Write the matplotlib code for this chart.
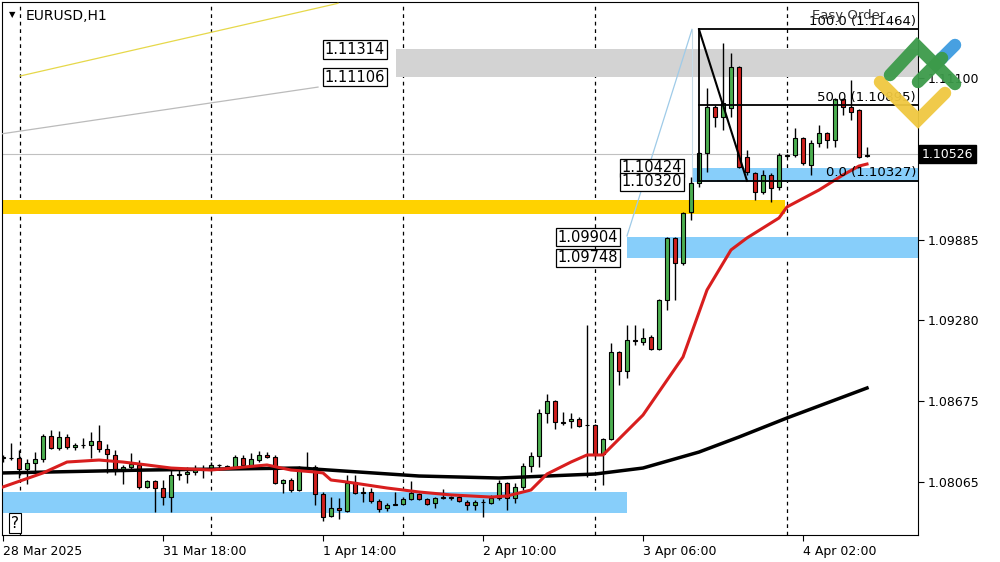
import matplotlib
matplotlib.use("Agg")
import matplotlib.pyplot as plt
import numpy as np
from matplotlib.lines import Line2D
from matplotlib.patches import Rectangle

opens = [1.08245,1.08245,1.08245,1.08163,1.08208,1.08238,1.08411,1.08321,1.08403,1.08328,
         1.08343,1.08343,1.08373,1.08313,1.08268,1.08148,1.08178,1.08193,1.08028,1.08073,
         1.08020,1.07952,1.08118,1.08125,1.08140,1.08155,1.08163,1.08193,1.08185,1.08178,
         1.08245,1.08193,1.08230,1.08268,1.08253,1.08058,1.08080,1.08005,1.08178,1.08178,
         1.07975,1.07810,1.07870,1.07847,1.08065,1.07983,1.07990,1.07922,1.07870,1.07892,
         1.07900,1.07937,1.07975,1.07937,1.07907,1.07945,1.07945,1.07952,1.07915,1.07892,
         1.07915,1.07907,1.07945,1.08058,1.07945,1.08028,1.08185,1.08260,1.08583,1.08673,
         1.08516,1.08523,1.08538,1.08493,1.08493,1.08275,1.08388,1.09041,1.08899,1.09132,
         1.09117,1.09154,1.09064,1.09432,1.09898,1.09710,1.10093,1.10311,1.10536,1.10881,
         1.10806,1.10874,1.11182,1.10506,1.10386,1.10243,1.10371,1.10281,1.10521,1.10521,
         1.10649,1.10446,1.10611,1.10686,1.10634,1.10942,1.10881,1.10859,1.10513]
highs = [1.08268,1.08358,1.08305,1.08238,1.08290,1.08426,1.08456,1.08448,1.08426,1.08358,
         1.08396,1.08441,1.08493,1.08351,1.08305,1.08193,1.08283,1.08230,1.08080,1.08080,
         1.08080,1.08155,1.08170,1.08178,1.08193,1.08193,1.08215,1.08200,1.08193,1.08268,
         1.08268,1.08283,1.08298,1.08290,1.08268,1.08090,1.08095,1.08185,1.08290,1.08190,
         1.07990,1.07952,1.07945,1.08118,1.08118,1.08028,1.08020,1.07937,1.07907,1.07990,
         1.07952,1.08073,1.07983,1.07945,1.07952,1.08013,1.07960,1.07968,1.07930,1.07930,
         1.07937,1.07968,1.08080,1.08065,1.08058,1.08208,1.08290,1.08613,1.08726,1.08681,
         1.08591,1.08583,1.08553,1.09244,1.08500,1.08396,1.09109,1.09049,1.09244,1.09244,
         1.09222,1.09170,1.09440,1.09905,1.09905,1.10093,1.10356,1.10543,1.11024,1.10896,
         1.11362,1.11287,1.11190,1.10558,1.10393,1.10408,1.10386,1.10536,1.10528,1.10724,
         1.10656,1.10634,1.10746,1.10694,1.10950,1.10950,1.11084,1.10866,1.10581]
lows = [1.08215,1.08230,1.08095,1.08050,1.08133,1.08215,1.08313,1.08305,1.08313,1.08305,
        1.08321,1.08245,1.08290,1.08133,1.08118,1.08050,1.08155,1.08013,1.08020,1.07840,
        1.07892,1.07840,1.08080,1.08058,1.08118,1.08095,1.08140,1.08155,1.08163,1.08170,
        1.08178,1.08178,1.08215,1.08245,1.08050,1.07983,1.07990,1.07998,1.08155,1.07892,
        1.07772,1.07802,1.07787,1.07840,1.07975,1.07915,1.07907,1.07840,1.07847,1.07892,
        1.07892,1.07930,1.07930,1.07892,1.07870,1.07937,1.07930,1.07915,1.07855,1.07855,
        1.07802,1.07900,1.07930,1.07855,1.07907,1.08005,1.08140,1.08178,1.08508,1.08463,
        1.08493,1.08471,1.08478,1.08103,1.08253,1.08043,1.08381,1.08794,1.08846,1.09094,
        1.09094,1.09056,1.09056,1.09357,1.09432,1.09695,1.10033,1.10281,1.10393,1.10731,
        1.10709,1.10806,1.10423,1.10371,1.10183,1.10228,1.10168,1.10258,1.10506,1.10506,
        1.10446,1.10371,1.10581,1.10574,1.10581,1.10821,1.10784,1.10500,1.10506]
closes = [1.08253,1.08248,1.08163,1.08208,1.08238,1.08411,1.08321,1.08403,1.08328,1.08343,
          1.08340,1.08373,1.08313,1.08275,1.08148,1.08178,1.08200,1.08028,1.08073,1.08020,
          1.07952,1.08118,1.08125,1.08140,1.08155,1.08163,1.08193,1.08190,1.08170,1.08253,
          1.08193,1.08238,1.08268,1.08253,1.08058,1.08080,1.08005,1.08178,1.08170,1.07975,
          1.07802,1.07870,1.07855,1.08058,1.07983,1.07990,1.07922,1.07862,1.07892,1.07900,
          1.07937,1.07983,1.07937,1.07900,1.07945,1.07952,1.07950,1.07922,1.07892,1.07915,
          1.07912,1.07945,1.08058,1.07945,1.08028,1.08185,1.08260,1.08583,1.08673,1.08516,
          1.08510,1.08538,1.08486,1.08490,1.08275,1.08388,1.09041,1.08899,1.09132,1.09124,
          1.09147,1.09064,1.09432,1.09898,1.09710,1.10085,1.10311,1.10536,1.10881,1.10806,
          1.10911,1.11182,1.10431,1.10393,1.10243,1.10371,1.10273,1.10521,1.10515,1.10649,
          1.10461,1.10611,1.10686,1.10634,1.10942,1.10881,1.10844,1.10506,1.10521]

ma_fast_idx = [0,5,8,12,15,18,21,26,33,36,39,40,41,43,48,52,56,61,63,66,68,71,73,75,80,85,88,91,93,95,97,98,102,105,107,108]
ma_fast_val = [1.08028,1.08133,1.08215,1.08230,1.08215,1.08193,1.08170,1.08155,1.08193,1.08155,1.08140,1.08133,1.08080,
               1.08065,1.08020,1.07990,1.07968,1.07952,1.07960,1.08005,1.08125,1.08215,1.08268,1.08268,1.08568,
               1.09004,1.09507,1.09808,1.09898,1.09973,1.10048,1.10131,1.10258,1.10371,1.10438,1.10453]
ma_slow_idx = [0,18,37,52,62,74,80,87,92,98,108]
ma_slow_val = [1.08133,1.08155,1.08170,1.08110,1.08095,1.08125,1.08170,1.08290,1.08403,1.08546,1.08771]

date_labels = ["28 Mar 2025","31 Mar 18:00","1 Apr 14:00","2 Apr 10:00","3 Apr 06:00","4 Apr 02:00"]
date_idx = [0,20,40,60,80,100]
price_ticks = [1.11100,1.09885,1.09280,1.08675,1.08065]
current_price = 1.10526
fib_levels = [1.11464,1.10895,1.10327]
fib_names = ["100.0","50.0","0.0"]

W, H = 1000, 562
fig = plt.figure(figsize=(10, 5.62), dpi=100)
ax = fig.add_axes([2/W, 27/H, 916/W, 533/H])
ax.set_xlim(-0.125, 114.375)
ax.set_ylim(1.07667, 1.11670)

def px2x(px): return (px - 3) / 8.0

GREEN = "#4caf50"; RED = "#d0201e"
n = len(opens)
xs = np.arange(n)
o = np.array(opens); c = np.array(closes)
ax.vlines(xs, lows, highs, color="black", lw=1, zorder=4)
bot = np.minimum(o, c); ht = np.maximum(np.abs(c - o), 0.00003)
cols = [GREEN if cc >= oo else RED for oo, cc in zip(o, c)]
ax.bar(xs, ht, bottom=bot, width=0.62, color=cols, edgecolor="black", lw=0.8, zorder=5)

# zones
ax.add_patch(Rectangle((px2x(3), 1.10078), px2x(785)-px2x(3), 0.00105, color="#ffd200", lw=0, zorder=2))
ax.add_patch(Rectangle((px2x(3), 1.07832), px2x(627)-px2x(3), 0.00158, color="#87cefa", lw=0, zorder=1))
ax.add_patch(Rectangle((px2x(627), 1.09748), 120, 1.09904-1.09748, color="#87cefa", lw=0, zorder=1))
ax.add_patch(Rectangle((px2x(693), 1.10320), 120, 1.10424-1.10320, color="#87cefa", lw=0, zorder=1))
ax.add_patch(Rectangle((px2x(396), 1.11106), 120, 1.11314-1.11106, color="#d3d3d3", lw=0, zorder=1))

# MAs
ax.plot(ma_slow_idx, ma_slow_val, color="black", lw=2.5, zorder=6)
ax.plot(ma_fast_idx, ma_fast_val, color="#d81e1e", lw=2.2, zorder=7)

# grid
for gx in [20, 211, 403, 595, 787]:
    ax.axvline(px2x(gx), color="black", lw=0.9, ls=(0, (3, 3)), zorder=0)
ax.axhline(current_price, color="#c0c0c0", lw=0.8, zorder=0)

# trend lines
ax.plot([px2x(20), px2x(338)], [1.11114, 1.11660], color="#e6d84a", lw=0.9, zorder=3)
ax.plot([px2x(0), px2x(318)], [1.10678, 1.11031], color="#bbbbbb", lw=0.9, zorder=3)
ax.plot([px2x(627), px2x(692)], [1.09913, 1.11464], color="#9fcbe8", lw=0.9, zorder=3)
ax.plot([px2x(692), px2x(692)], [1.10300, 1.11464], color="#c8dce8", lw=0.8, zorder=3)

# fibo
fx0 = px2x(699)
for lv in fib_levels:
    ax.plot([fx0, 120], [lv, lv], color="black", lw=1.3, zorder=8)
ax.plot([fx0, fx0], [fib_levels[2], fib_levels[0]], color="black", lw=1.3, zorder=8)
ax.plot([fx0, px2x(747)], [fib_levels[0], fib_levels[2]], color="black", lw=1.5, zorder=8)
for lv, nm in zip(fib_levels, fib_names):
    ax.text(px2x(916), lv + 0.00012, f"{nm} ({lv:.5f})", ha="right", va="bottom", fontsize=9.5, zorder=9)

# price labels of zones
def lab(xpx, price, txt, va):
    ax.text(px2x(xpx), price, txt, ha="right", va=va, fontsize=10.5, zorder=10,
            bbox=dict(boxstyle="square,pad=0.12", fc="white", ec="black", lw=0.9))
lab(385, 1.11314, "1.11314", "center")
lab(385, 1.11106, "1.11106", "center")
lab(682, 1.10424, "1.10424", "center")
lab(682, 1.10320, "1.10320", "center")
lab(618, 1.09904, "1.09904", "center")
lab(618, 1.09748, "1.09748", "center")

# axes styling
ax.yaxis.tick_right()
ax.set_yticks(price_ticks)
ax.set_yticklabels([f"{p:.5f}" for p in price_ticks])
ax.set_xticks(date_idx)
ax.set_xticklabels(date_labels, ha="left")
ax.tick_params(axis="both", labelsize=9, length=4, width=0.8, pad=3)
for lbl in ax.get_xticklabels():
    lbl.set_x(lbl.get_position()[0])
for s in ax.spines.values():
    s.set_linewidth(0.8)

# current price label
ax.text(1.004, current_price, f"{current_price:.5f}", transform=ax.get_yaxis_transform(),
        ha="left", va="center", fontsize=9, color="white", zorder=12, clip_on=False,
        bbox=dict(boxstyle="square,pad=0.2", fc="black", ec="black"))

# title
fig.text(26/W, 1 - 16/H, "EURUSD,H1", fontsize=10, va="center", ha="left")
fig.text(12/W, 1 - 15/H, "▼", fontsize=6, va="center", ha="center")
fig.text(15/W, 1 - 523/H, "?", fontsize=11, va="center", ha="center",
         bbox=dict(boxstyle="square,pad=0.15", fc="white", ec="black", lw=0.8))
fig.text(812/W, 1 - 16/H, "Easy Order", fontsize=9.5, va="center", ha="left", color="#333333")

# logo
def fl(pts, col, lw=9):
    xs_ = [p[0]/W for p in pts]; ys_ = [1 - p[1]/H for p in pts]
    fig.add_artist(Line2D(xs_, ys_, color=col, lw=lw, solid_capstyle="round", solid_joinstyle="miter", alpha=0.95))
fl([(880, 82), (918, 120), (945, 93)], "#f0c840")
fl([(938, 62), (955, 45)], "#3d9be0")
fl([(890, 75), (917, 46), (955, 84)], "#3c9a4a")
fl([(918, 82), (942, 58)], "#3c9a4a")

fig.savefig("out.png", dpi=100)
